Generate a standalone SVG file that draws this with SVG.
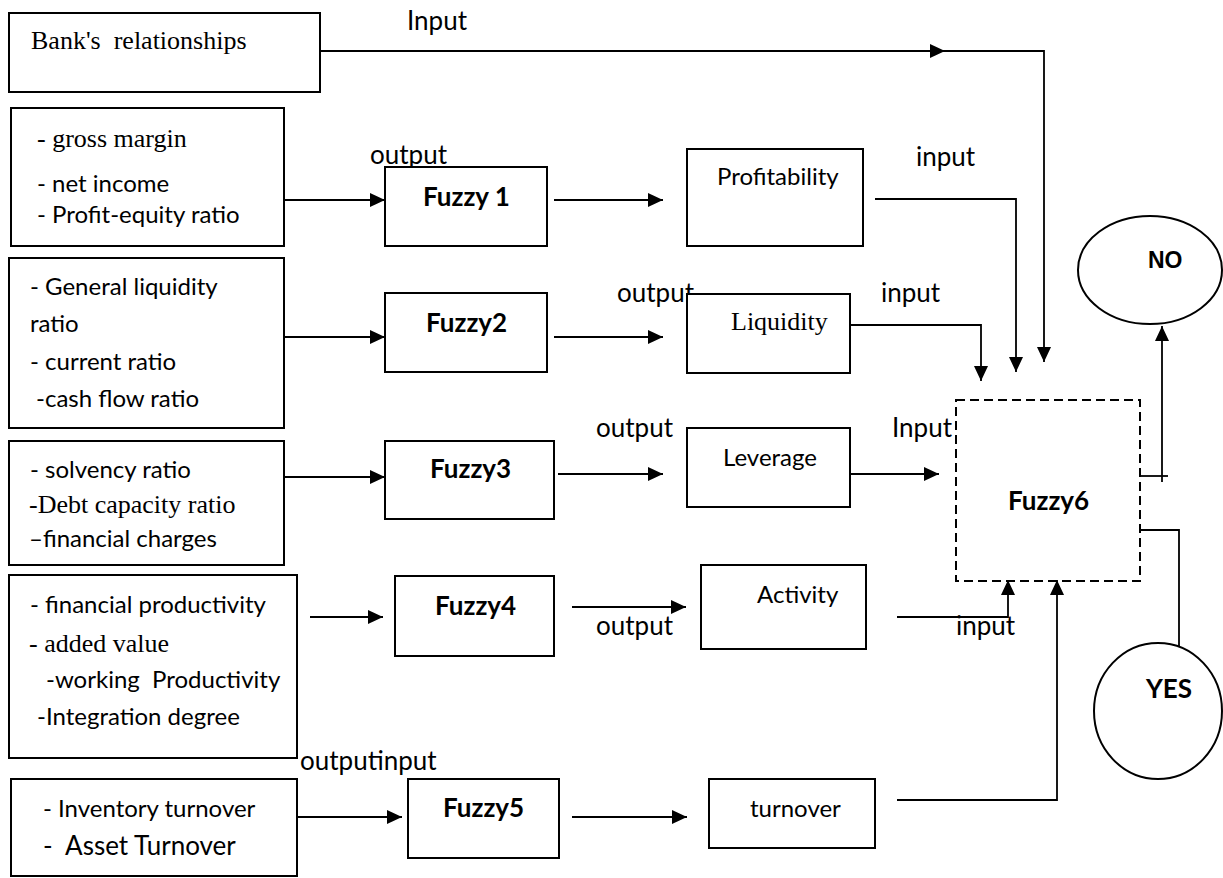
<svg xmlns="http://www.w3.org/2000/svg" width="1223" height="878" viewBox="0 0 1223 878">
<style>
.box{fill:#fff;stroke:#000;stroke-width:2}
.dash{fill:none;stroke:#000;stroke-width:2;stroke-dasharray:9 5}
.ln{fill:none;stroke:#000;stroke-width:1.8}
.sans{font-family:Lato,"Open Sans","Liberation Sans",sans-serif;font-size:24px;fill:#000}
.lbl{font-family:Lato,"Open Sans","Liberation Sans",sans-serif;font-size:26px;fill:#000}
.serif{font-family:"Liberation Serif","Times New Roman",serif;font-size:26px;fill:#000}
.bold{font-family:Lato,"Open Sans","Liberation Sans",sans-serif;font-size:26px;font-weight:bold;fill:#000}
.arial{font-family:"Liberation Sans",Arial,sans-serif;font-size:23px;font-weight:bold;fill:#000}
</style>
<defs>
<marker id="ah" viewBox="0 0 15 14" refX="15" refY="7" markerWidth="15" markerHeight="14" markerUnits="userSpaceOnUse" orient="auto">
<path d="M0,0 L15,7 L0,14 Z" fill="#000"/>
</marker>
</defs>
<g id="connectors">
<path class="ln" d="M320,51 H945" marker-end="url(#ah)"/>
<path class="ln" d="M945,51 H1044 V362" marker-end="url(#ah)"/>
<path class="ln" d="M284,200 H385" marker-end="url(#ah)"/>
<path class="ln" d="M554,200 H663" marker-end="url(#ah)"/>
<path class="ln" d="M875,199 H1016 V372" marker-end="url(#ah)"/>
<path class="ln" d="M284,337 H385" marker-end="url(#ah)"/>
<path class="ln" d="M554,337 H663" marker-end="url(#ah)"/>
<path class="ln" d="M850,325 H981 V381" marker-end="url(#ah)"/>
<path class="ln" d="M284,477 H385" marker-end="url(#ah)"/>
<path class="ln" d="M558,474 H663" marker-end="url(#ah)"/>
<path class="ln" d="M850,474 H939" marker-end="url(#ah)"/>
<path class="ln" d="M310,617 H383" marker-end="url(#ah)"/>
<path class="ln" d="M572,607 H686" marker-end="url(#ah)"/>
<path class="ln" d="M897,617 H1008 V580" marker-end="url(#ah)"/>
<path class="ln" d="M297,817 H402" marker-end="url(#ah)"/>
<path class="ln" d="M572,817 H687" marker-end="url(#ah)"/>
<path class="ln" d="M897,800 H1057 V580" marker-end="url(#ah)"/>
<path class="ln" d="M1140,476 H1168"/>
<path class="ln" d="M1162,482 V326" marker-end="url(#ah)"/>
<path class="ln" d="M1140,530 H1179 V647"/>
<text class="lbl" x="407" y="30">Input</text>
<text class="lbl" x="370" y="164">output</text>
<text class="lbl" x="916" y="166">input</text>
<text class="lbl" x="881" y="302">input</text>
<text class="lbl" x="617" y="302">output</text>
<text class="lbl" x="596" y="437">output</text>
<text class="lbl" x="892" y="437">Input</text>
<text class="lbl" x="596" y="635">output</text>
<text class="lbl" x="956" y="635">input</text>
<text class="lbl" x="300" y="770">outputinput</text>
</g>
<g id="bank">
<rect class="box" x="9" y="13" width="311" height="79"/>
<text class="serif" x="31" y="49" style="white-space:pre">Bank's  relationships</text>
</g>
<g id="profit-inputs">
<rect class="box" x="11" y="108" width="273" height="138"/>
<text class="serif" x="37" y="147">- gross margin</text>
<text class="sans" x="37" y="192">- net income</text>
<text class="sans" x="37" y="223">- Profit-equity ratio</text>
</g>
<g id="fuzzy1">
<rect class="box" x="385" y="167" width="162" height="79"/>
<text class="bold" x="423" y="206">Fuzzy 1</text>
</g>
<g id="profitability">
<rect class="box" x="687" y="149" width="176" height="97"/>
<text class="sans" x="717" y="185">Profitability</text>
</g>
<g id="liquidity-inputs">
<rect class="box" x="9" y="258" width="275" height="170"/>
<text class="sans" x="30" y="295">- General liquidity</text>
<text class="sans" x="30" y="332">ratio</text>
<text class="sans" x="30" y="370">- current ratio</text>
<text class="sans" x="36" y="407">-cash flow ratio</text>
</g>
<g id="fuzzy2">
<rect class="box" x="385" y="293" width="162" height="79"/>
<text class="bold" x="426" y="332">Fuzzy2</text>
</g>
<g id="liquidity">
<rect class="box" x="687" y="294" width="163" height="79"/>
<text class="serif" x="731" y="330">Liquidity</text>
</g>
<g id="leverage-inputs">
<rect class="box" x="9" y="441" width="275" height="124"/>
<text class="sans" x="30" y="478">- solvency ratio</text>
<text class="serif" x="29" y="513">-Debt capacity ratio</text>
<text class="sans" x="29" y="547">–financial charges</text>
</g>
<g id="fuzzy3">
<rect class="box" x="385" y="441" width="169" height="78"/>
<text class="bold" x="430" y="478">Fuzzy3</text>
</g>
<g id="leverage">
<rect class="box" x="687" y="428" width="163" height="79"/>
<text class="sans" x="723" y="466">Leverage</text>
</g>
<g id="activity-inputs">
<rect class="box" x="9" y="575" width="288" height="183"/>
<text class="sans" x="30" y="613">- financial productivity</text>
<text class="serif" x="29" y="652">- added value</text>
<text class="sans" x="46" y="688" style="white-space:pre">-working  Productivity</text>
<text class="sans" x="37" y="725">-Integration degree</text>
</g>
<g id="fuzzy4">
<rect class="box" x="395" y="576" width="159" height="80"/>
<text class="bold" x="435" y="615">Fuzzy4</text>
</g>
<g id="activity">
<rect class="box" x="701" y="565" width="165" height="84"/>
<text class="sans" x="757" y="603">Activity</text>
</g>
<g id="turnover-inputs">
<rect class="box" x="11" y="779" width="286" height="97"/>
<text class="sans" x="43" y="817">- Inventory turnover</text>
<text class="sans" x="43" y="855" style="white-space:pre;font-size:26px">-  Asset Turnover</text>
</g>
<g id="fuzzy5">
<rect class="box" x="408" y="779" width="151" height="79"/>
<text class="bold" x="443" y="817">Fuzzy5</text>
</g>
<g id="turnover">
<rect class="box" x="709" y="779" width="166" height="69"/>
<text class="sans" x="750" y="817">turnover</text>
</g>
<g id="fuzzy6">
<rect class="dash" x="956" y="400" width="184" height="181"/>
<text class="bold" x="1008" y="510">Fuzzy6</text>
</g>
<g id="no">
<ellipse class="box" cx="1150" cy="270" rx="72" ry="54"/>
<text class="arial" x="1148" y="268">NO</text>
</g>
<g id="yes">
<ellipse class="box" cx="1158" cy="711" rx="64" ry="68"/>
<text class="bold" x="1146" y="698">YES</text>
</g>
</svg>
